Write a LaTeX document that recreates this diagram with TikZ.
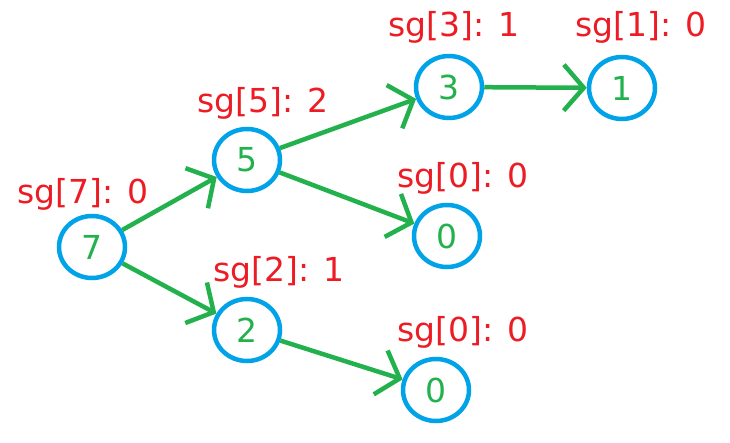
\documentclass[tikz,border=0pt]{standalone}
\usepackage{fontspec}
\setmainfont{DejaVu Sans}
\usetikzlibrary{shapes.geometric, arrows.meta}
\definecolor{sgblue}{HTML}{00A2E8}
\definecolor{sggreen}{HTML}{22B14C}
\definecolor{sgred}{HTML}{ED1C24}
\begin{document}
\begin{tikzpicture}[x=1pt, y=-1pt,
  vertex/.style={ellipse, draw=sgblue, line width=4.5pt, minimum width=66pt, minimum height=62pt, inner sep=0pt, text=sggreen, font=\fontsize{33}{33}\selectfont},
  sg label/.style={anchor=base west, inner sep=0pt, text=sgred, font=\fontsize{33}{33}\selectfont},
  edge/.style={draw=sggreen, line width=4.5pt, -{Straight Barb[length=20pt, width=46pt]}}]
\useasboundingbox (0,0) rectangle (730,443);

\begin{scope}
\node[vertex] (n7) at (92,247) {7};
\node[vertex] (n5) at (247,160) {5};
\node[vertex] (n2) at (247,330) {2};
\node[vertex] (n3) at (449,87) {3};
\node[vertex] (n1) at (622,88) {1};
\node[vertex] (n0a) at (447,236) {0};
\node[vertex] (n0b) at (436,390) {0};

\node[sg label] (l7) at (17,204) {sg[7]: 0};
\node[sg label] (l5) at (197,113) {sg[5]: 2};
\node[sg label] (l2) at (213,282) {sg[2]: 1};
\node[sg label] (l3) at (388,37) {sg[3]: 1};
\node[sg label] (l1) at (575,37) {sg[1]: 0};
\node[sg label] (l0a) at (397,188) {sg[0]: 0};
\node[sg label] (l0b) at (397,341) {sg[0]: 0};

\draw[edge] (n7) -- (n5);
\draw[edge] (n7) -- (n2);
\draw[edge] (n5) -- (n3);
\draw[edge] (n5) -- (n0a);
\draw[edge] (n3) -- (n1);
\draw[edge] (n2) -- (n0b);
\end{scope}

\end{tikzpicture}
\end{document}
